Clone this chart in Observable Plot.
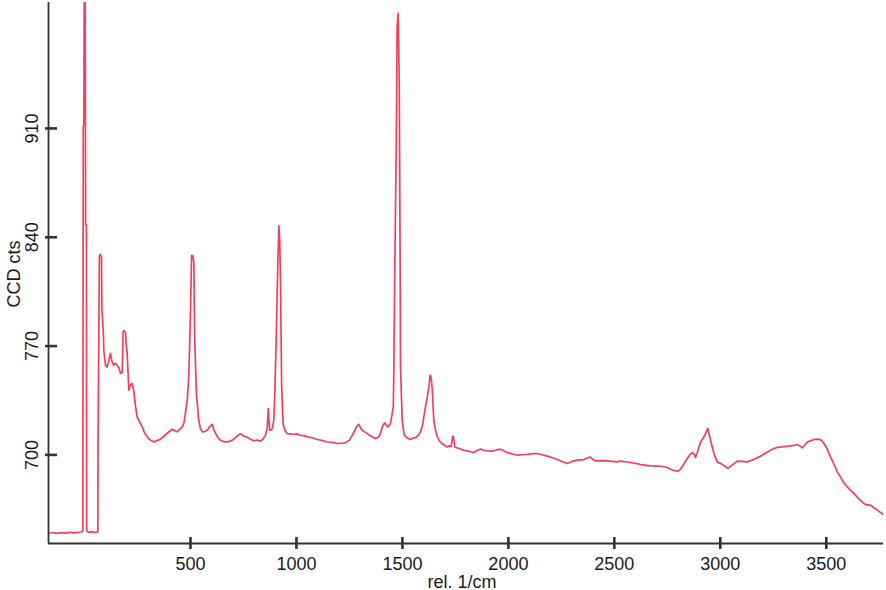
<!DOCTYPE html>
<html>
<head>
<meta charset="utf-8">
<script src="https://cdn.jsdelivr.net/npm/d3@7"></script>
<script src="https://cdn.jsdelivr.net/npm/@observablehq/plot@0.6"></script>
<style>
  html, body { margin: 0; padding: 0; background: #fff; }
  #chart { width: 886px; height: 590px; }
</style>
</head>
<body>
<div id="chart"></div>
<script>
const xLabel = "rel. 1/cm";
const yLabel = "CCD cts";
const xTicks = [500, 1000, 1500, 2000, 2500, 3000, 3500];
const yTicks = [700, 770, 840, 910];
const xDomain = [-170, 3770];
const yDomain = [643, 991];

const wavenumber = [
  -170, -150, -130, -110, -90, -70, -50, -30, -15, -8, -6, -3, -1, 3, 5, 9, 10, 20, 35, 50, 62, 63, 64,
  70, 75, 80, 82, 89, 91, 99, 107, 115, 122, 130, 138, 146, 154, 162, 170, 178, 182, 186, 193, 197, 201,
  209, 217, 225, 232, 240, 248, 260, 272, 284, 296, 310, 327, 340, 358, 375, 390, 405, 414, 425, 437,
  450, 461, 470, 476, 485, 492, 500, 505, 511, 516, 520, 528, 539, 547, 555, 567, 579, 590, 602, 610,
  618, 630, 642, 656, 673, 690, 704, 720, 736, 752, 768, 783, 799, 815, 830, 842, 854, 862, 867, 870,
  874, 880, 886, 893, 898, 904, 912, 917, 921, 925, 930, 937, 945, 956, 970, 987, 1000, 1019, 1035,
  1051, 1075, 1098, 1120, 1145, 1170, 1192, 1210, 1231, 1250, 1263, 1275, 1283, 1294, 1302, 1310, 1322,
  1334, 1352, 1373, 1389, 1398, 1405, 1416, 1425, 1431, 1438, 1444, 1452, 1457, 1460, 1463, 1471, 1475,
  1480, 1485, 1489, 1491, 1499, 1507, 1515, 1527, 1538, 1550, 1562, 1575, 1585, 1595, 1601, 1609, 1618,
  1625, 1630, 1633, 1637, 1641, 1648, 1656, 1664, 1672, 1685, 1700, 1711, 1722, 1730, 1737, 1740, 1747,
  1760, 1775, 1788, 1805, 1820, 1836, 1852, 1869, 1885, 1900, 1916, 1935, 1960, 1980, 1995, 2020, 2042,
  2065, 2089, 2110, 2136, 2160, 2183, 2205, 2231, 2255, 2278, 2300, 2325, 2340, 2356, 2370, 2384, 2398,
  2411, 2440, 2466, 2490, 2514, 2529, 2550, 2576, 2600, 2624, 2650, 2671, 2695, 2718, 2750, 2773, 2800,
  2810, 2820, 2832, 2844, 2856, 2868, 2876, 2883, 2895, 2907, 2920, 2930, 2941, 2948, 2954, 2962, 2970,
  2985, 3009, 3023, 3037, 3056, 3080, 3100, 3127, 3158, 3190, 3222, 3253, 3270, 3292, 3310, 3332, 3350,
  3363, 3375, 3387, 3400, 3410, 3425, 3442, 3465, 3478, 3489, 3505, 3520, 3536, 3552, 3568, 3583, 3605,
  3630, 3655, 3677, 3692, 3709, 3725, 3741, 3755, 3769
];
const counts = [
  649.6, 650.1, 649.5, 650.0, 649.7, 650.2, 649.8, 650.1, 650.4, 651, 911, 913, 1015, 1015, 848, 848, 651, 650.2, 650.6, 650.0, 650.5, 651, 709,
  828, 829, 827, 794, 778, 767, 757.6, 756.5, 761, 765.3, 760, 757.6, 759, 757.6, 756, 752.5, 753, 779, 780, 779, 770, 766,
  741.6, 745, 746, 741.6, 732, 724.4, 721, 718, 714, 711.6, 709.5, 708.3, 709, 710.1, 712, 713.9, 715.5, 716.5, 715.5, 714.8,
  716.5, 718, 721, 726.8, 736, 750.1, 791, 828.3, 828, 823.1, 773.7, 739.6, 722.3, 717, 714.8, 715, 715.9, 718, 719.7, 716.5,
  713.9, 711, 709.4, 708.5, 708.3, 709, 710.1, 712, 713.7, 712, 711.4, 710, 709, 709.6, 708.8, 710.2, 712.6, 717.1, 729.8, 723,
  715.9, 716, 717, 722.3, 740.5, 771.7, 823.1, 847.5, 838, 808, 745, 720, 715.9, 713.7, 713.5, 713.1, 713.5, 712.6, 712.4,
  711.6, 711, 709.9, 709.3, 708.3, 708, 707.3, 707.5, 707.7, 709.5, 712.6, 715.5, 718, 719.7, 717.5, 715.9, 714.8,
  713.7, 712, 710.5, 711.6, 714.5, 718, 720.6, 719, 718, 719, 720.2, 726.8, 730.8, 758.9, 806.9, 898.8, 975.2,
  984.1, 940.2, 831.5, 756.5, 722.3, 713.9, 711.6, 710.5, 709.9, 710.8, 711.2, 712.5, 714.8, 719, 724.4, 730.8, 738,
  743.7, 751, 751.2, 748, 741.6, 722.3, 716, 712, 709.4, 707.5, 706, 705.1, 705.8, 705.3, 712, 712, 705.1,
  704.4, 703.8, 703, 702.6, 702, 701.5, 702.8, 703.7, 703, 702.6, 702.4, 702.8, 703.7, 702.5, 701.5, 700.6, 699.8,
  700.1, 700.3, 700.6, 700.9, 700.1, 699.2, 698.3, 697, 695.6, 694.5, 695.8, 696.6, 696.8, 697, 697.8, 698.7, 697.2,
  696.1, 696.3, 696.1, 695.8, 695.5, 696, 695.6, 695.1, 694.5, 693.8, 693.3, 692.9, 692.8, 692.7, 691.9, 690.2, 689.5,
  690.5, 692.3, 695, 697.7, 700, 701.5, 700.5, 698.3, 703, 708.3, 711, 713.7, 717, 713, 709.4, 705, 700.9,
  695.5, 694, 692.5, 691.3, 693.4, 696, 695.8, 695.5, 697, 699.2, 701.9, 704.1, 704.8, 705.1, 705.5, 705.8, 706.2,
  706.7, 705.8, 704.5, 706.5, 708.3, 709, 709.9, 710.1, 709.2, 707.3, 703.5, 698.7, 694, 689.1, 685.5, 682, 678.5,
  675.2, 671.5, 668.8, 667.8, 667.7, 666, 664.5, 663, 661.7
];

const data = wavenumber.map((w, i) => ({w, c: counts[i]}));
const axisColor = "#333";
const textColor = "#1a1a1a";

const W = 886, H = 590, mL = 48, mR = 3, mT = 2, mB = 47;
const xPerPx = (xDomain[1] - xDomain[0]) / (W - mL - mR);
const yPerPx = (yDomain[1] - yDomain[0]) / (H - mT - mB);

const chart = Plot.plot({
  width: W,
  height: H,
  marginLeft: mL,
  marginRight: mR,
  marginTop: mT,
  marginBottom: mB,
  style: {fontFamily: "'Liberation Sans', Arial, sans-serif", fontSize: "18px", background: "#fff"},
  x: {domain: xDomain},
  y: {domain: yDomain},
  marks: [
    Plot.axisX(xTicks, {tickSize: 0, tickPadding: 14, tickFormat: d3.format("d"), fill: textColor, fontSize: 18, label: null}),
    Plot.axisY(yTicks, {tickSize: 0, tickPadding: 10.5, tickRotate: -90, tickFormat: d3.format("d"), fill: textColor, fontSize: 18, label: null}),
    Plot.text([xLabel], {frameAnchor: "bottom", dy: 44, dx: -4, lineAnchor: "bottom", fill: textColor, fontSize: 18}),
    Plot.text([yLabel], {frameAnchor: "left", rotate: -90, dx: -29, dy: 1, lineAnchor: "bottom", textAnchor: "middle", fill: textColor, fontSize: 18}),
    Plot.line(data, {x: "w", y: "c", stroke: "#f2405c", strokeWidth: 1.7, clip: true}),
    Plot.ruleX([xDomain[0]], {stroke: axisColor, strokeWidth: 1.8}),
    Plot.ruleY([yDomain[0]], {stroke: axisColor, strokeWidth: 1.8}),
    Plot.ruleX(xTicks, {y1: yDomain[0] - 6 * yPerPx, y2: yDomain[0] + 6 * yPerPx, stroke: axisColor, strokeWidth: 2.6}),
    Plot.ruleY(yTicks, {x1: xDomain[0] - 3 * xPerPx, x2: xDomain[0] + 9 * xPerPx, stroke: axisColor, strokeWidth: 2.6})
  ]
});
document.getElementById("chart").appendChild(chart);
</script>
</body>
</html>
